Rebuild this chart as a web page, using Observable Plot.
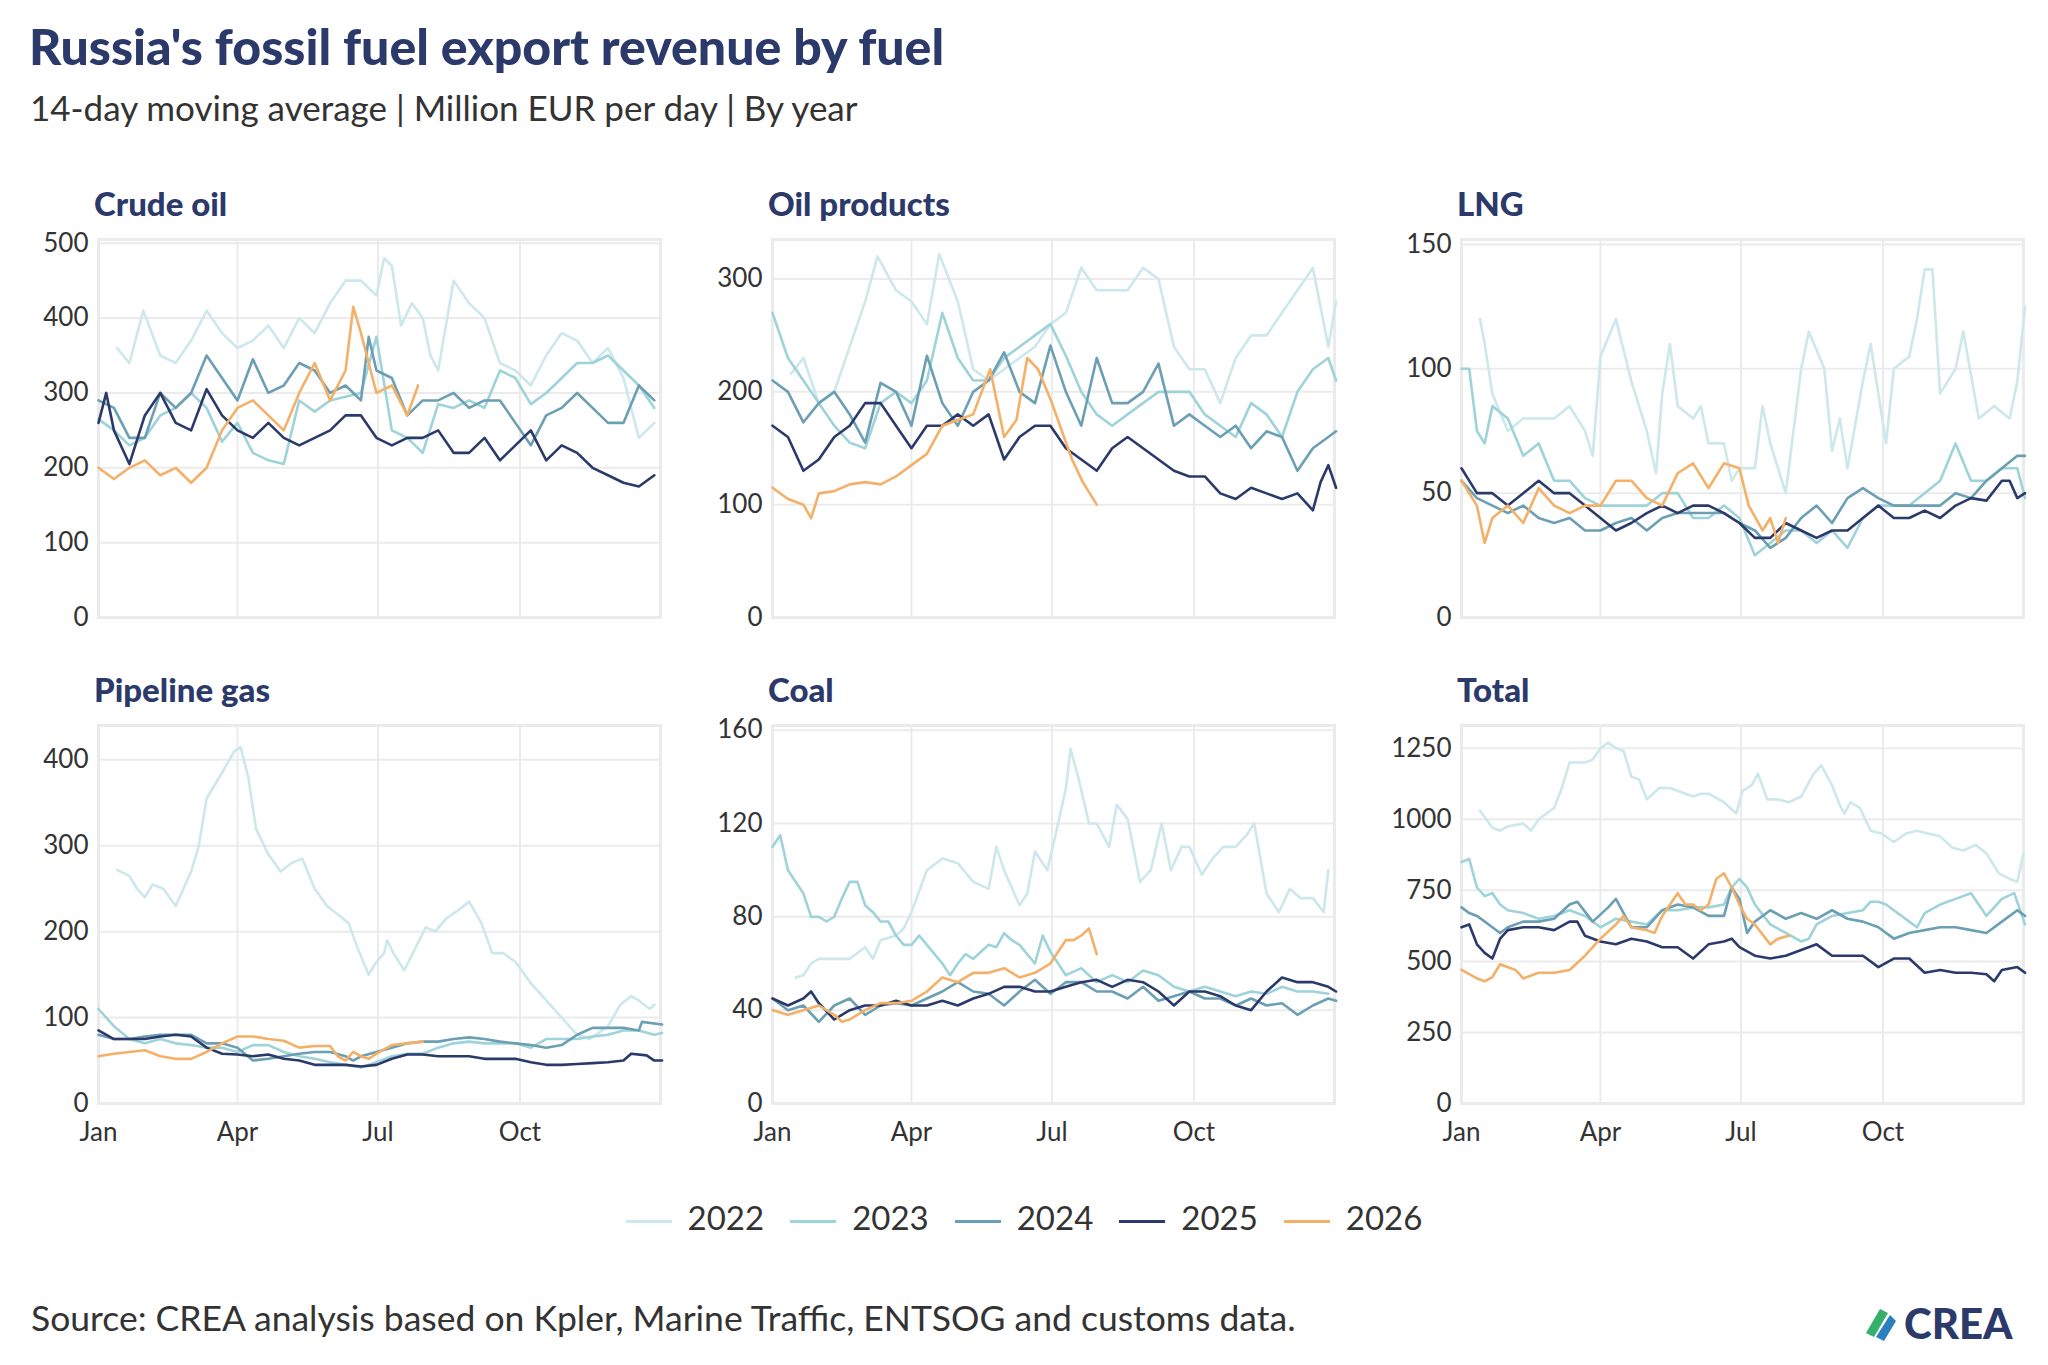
<!DOCTYPE html>
<html><head><meta charset="utf-8">
<script src="https://cdn.jsdelivr.net/npm/d3@7"></script>
<script src="https://cdn.jsdelivr.net/npm/@observablehq/plot@0.6"></script>
<style>
body{margin:0;width:2048px;height:1365px;background:#fff;font-family:Lato,"Noto Sans",sans-serif;position:relative;overflow:hidden}
.abs{position:absolute}
#title{left:29px;top:16px;font-size:50px;font-weight:900;color:#2b3a6b}
#sub{left:30px;top:86px;font-size:35px;color:#333}
.ptitle{font-size:33px;font-weight:900;color:#2b3a6b}
#legend{top:1197px;left:0;width:2048px;display:flex;justify-content:center;gap:26px;font-size:33px;color:#333}
#legend span.sw{display:inline-block;width:46px;height:3px;margin-right:16px;vertical-align:middle}
#cap{left:31px;top:1296px;font-size:35.5px;color:#333}
#logo{left:1862px;top:1298px;font-size:42px;font-weight:900;color:#2b3a6b;display:flex;align-items:center;gap:6px}
</style></head><body>
<div id="title" class="abs">Russia's fossil fuel export revenue by fuel</div>
<div id="sub" class="abs">14-day moving average | Million EUR per day | By year</div>
<div id="legend" class="abs"></div>
<div id="cap" class="abs">Source: CREA analysis based on Kpler, Marine Traffic, ENTSOG and customs data.</div>
<div id="logo" class="abs"><svg width="36" height="40" viewBox="0 0 36 40"><path d="M4 30 L18 6 L26 10 L12 34Z" fill="#35b06c"/><path d="M14 34 L28 12 L34 18 L22 38Z" fill="#2a7fbf"/></svg>CREA</div>
<script>
const years = ["2022","2023","2024","2025","2026"];
const colors = ["#cde8ec","#9ed3da","#6b9fb3","#2b3a6b","#f5b068"];
const fuels = ["Crude oil","Oil products","LNG","Pipeline gas","Coal","Total"];
const yMax = [505,335,152,440,162,1330];
const yTicks = [[0,100,200,300,400,500],[0,100,200,300],[0,50,100,150],[0,100,200,300,400],[0,40,80,120,160],[0,250,500,750,1000,1250]];
const monthTicks = ["Jan","Apr","Jul","Oct"];

const crude2022=[[12,360],[20,340],[29,410],[40,350],[50,340],[60,370],[70,410],[80,380],[90,360],[100,370],[110,390],[120,360],[130,400],[140,380],[150,420],[160,450],[170,450],[180,430],[185,480],[190,470],[196,390],[203,420],[210,400],[215,350],[220,330],[230,450],[240,420],[250,400],[260,340],[270,330],[280,310],[290,350],[300,380],[310,370],[320,340],[330,360],[340,320],[350,240],[360,260]];
const crude2023=[[0,265],[10,250],[20,230],[30,240],[40,270],[50,280],[60,300],[70,280],[80,235],[90,260],[100,220],[110,210],[120,205],[130,290],[140,275],[150,290],[160,295],[170,300],[180,375],[190,250],[200,240],[210,220],[220,285],[230,280],[240,290],[250,280],[260,330],[270,320],[280,285],[290,300],[300,320],[310,340],[320,340],[330,350],[340,330],[350,310],[360,280]];
const crude2024=[[0,290],[10,280],[20,240],[30,240],[40,300],[50,280],[60,300],[70,350],[80,320],[90,290],[100,345],[110,300],[120,310],[130,340],[140,330],[150,300],[160,310],[170,290],[175,375],[180,330],[190,320],[200,270],[210,290],[220,290],[230,300],[240,280],[250,290],[260,290],[270,260],[280,230],[290,270],[300,280],[310,300],[320,280],[330,260],[340,260],[350,310],[360,290]];
const crude2025=[[0,260],[5,300],[10,250],[20,205],[30,270],[40,300],[50,260],[60,250],[70,305],[80,270],[90,250],[100,240],[110,260],[120,240],[130,230],[140,240],[150,250],[160,270],[170,270],[180,240],[190,230],[200,240],[210,240],[220,250],[230,220],[240,220],[250,240],[260,210],[270,230],[280,250],[290,210],[300,230],[310,220],[320,200],[330,190],[340,180],[350,175],[360,190]];
const crude2026=[[0,200],[10,185],[20,200],[30,210],[40,190],[50,200],[60,180],[70,200],[80,250],[90,280],[100,290],[110,270],[120,250],[130,300],[140,340],[150,290],[160,330],[165,415],[170,380],[180,300],[190,310],[200,270],[207,310]];

const prod2022=[[12,216],[20,230],[30,190],[40,200],[50,240],[60,280],[68,320],[80,290],[90,280],[100,260],[108,322],[120,280],[130,220],[140,210],[150,220],[160,230],[170,240],[180,260],[190,270],[200,310],[210,290],[220,290],[230,290],[240,310],[250,300],[260,240],[270,220],[280,220],[290,190],[300,230],[310,250],[320,250],[330,270],[340,290],[350,310],[360,240],[365,280]];
const prod2023=[[0,270],[10,230],[20,210],[30,190],[40,170],[50,155],[60,150],[70,190],[80,200],[90,190],[100,210],[110,270],[120,230],[130,210],[140,210],[150,230],[160,240],[170,250],[180,260],[190,232],[200,200],[210,180],[220,170],[230,180],[240,190],[250,200],[260,200],[270,200],[280,180],[290,170],[300,160],[310,190],[320,180],[330,160],[340,200],[350,220],[360,230],[365,210]];
const prod2024=[[0,210],[10,200],[20,173],[30,190],[40,200],[50,180],[60,155],[70,208],[80,200],[90,170],[100,232],[110,190],[120,170],[130,200],[140,210],[150,235],[160,200],[170,190],[180,241],[190,200],[200,170],[210,230],[220,190],[230,190],[240,200],[250,225],[260,170],[270,180],[280,170],[290,160],[300,170],[310,150],[320,165],[330,160],[340,130],[350,150],[360,160],[365,165]];
const prod2025=[[0,170],[10,160],[20,130],[30,140],[40,160],[50,170],[60,190],[70,190],[80,170],[90,150],[100,170],[110,170],[120,180],[130,170],[140,180],[150,140],[160,160],[170,170],[180,170],[190,150],[200,140],[210,130],[220,150],[230,160],[240,150],[250,140],[260,130],[270,125],[280,125],[290,110],[300,105],[310,115],[320,110],[330,105],[340,110],[350,95],[355,120],[360,135],[365,115]];
const prod2026=[[0,115],[10,105],[20,100],[25,88],[30,110],[40,112],[50,118],[60,120],[70,118],[80,125],[90,135],[100,145],[110,170],[120,175],[130,180],[141,220],[150,160],[158,175],[165,230],[172,220],[181,190],[194,140],[201,120],[210,100]];

const lng2022=[[12,120],[15,110],[20,90],[30,75],[40,80],[50,80],[60,80],[70,85],[80,75],[85,65],[90,105],[100,120],[110,95],[120,75],[126,58],[130,90],[135,110],[140,85],[150,80],[155,85],[160,70],[170,70],[175,55],[180,60],[190,60],[195,85],[200,70],[210,50],[220,100],[225,115],[235,100],[240,67],[245,80],[250,60],[260,95],[265,110],[275,70],[280,100],[290,105],[295,120],[300,140],[305,140],[310,90],[320,100],[325,115],[335,80],[345,85],[355,80],[360,95],[365,125]];
const lng2023=[[0,100],[5,100],[10,75],[15,70],[20,85],[30,80],[40,65],[50,70],[60,55],[70,55],[80,48],[90,45],[100,45],[110,45],[120,45],[130,50],[140,50],[150,40],[160,40],[170,45],[180,40],[190,25],[200,30],[210,35],[220,35],[230,30],[240,35],[250,28],[260,40],[270,45],[280,45],[290,45],[300,50],[310,55],[320,70],[330,55],[340,55],[350,60],[360,60],[365,48]];
const lng2024=[[0,55],[10,48],[20,45],[30,42],[40,45],[50,40],[60,38],[70,40],[80,35],[90,35],[100,38],[110,40],[120,35],[130,40],[140,42],[150,42],[160,42],[170,42],[180,38],[190,35],[200,28],[210,32],[220,40],[230,45],[240,38],[250,48],[260,52],[270,48],[280,45],[290,45],[300,45],[310,45],[320,50],[330,48],[340,55],[350,60],[360,65],[365,65]];
const lng2025=[[0,60],[10,50],[20,50],[30,45],[40,50],[50,55],[60,50],[70,50],[80,45],[90,40],[100,35],[110,38],[120,42],[130,45],[140,42],[150,45],[160,45],[170,42],[180,38],[190,32],[200,32],[210,38],[220,35],[230,32],[240,35],[250,35],[260,40],[270,45],[280,40],[290,40],[300,43],[310,40],[320,45],[330,48],[340,47],[350,55],[355,55],[360,48],[365,50]];
const lng2026=[[0,55],[10,45],[15,30],[20,40],[30,45],[40,38],[50,52],[60,45],[70,42],[80,45],[90,45],[100,55],[110,55],[120,48],[130,45],[140,58],[150,62],[160,52],[170,62],[180,60],[186,45],[195,35],[200,40],[205,30],[210,40]];

const pipe2022=[[12,272],[20,265],[25,250],[30,240],[35,255],[42,250],[50,230],[60,270],[65,300],[70,355],[80,385],[88,410],[92,415],[97,380],[102,320],[110,290],[118,270],[125,280],[132,285],[140,250],[148,230],[155,220],[162,210],[168,180],[175,150],[180,165],[185,175],[187,190],[191,175],[198,155],[205,180],[212,205],[218,200],[225,215],[233,225],[240,235],[248,210],[255,175],[262,175],[270,165],[280,140],[290,120],[300,100],[310,80],[318,75],[330,90],[338,115],[345,125],[350,120],[357,110],[360,115]];
const pipe2023=[[0,110],[5,100],[10,90],[20,75],[30,70],[40,75],[50,70],[60,68],[70,65],[80,65],[90,60],[100,68],[110,68],[120,60],[130,55],[140,52],[150,48],[160,45],[170,42],[180,48],[190,55],[200,58],[210,58],[220,65],[230,70],[240,72],[250,70],[260,70],[270,70],[280,65],[290,75],[300,75],[310,75],[320,78],[330,80],[340,85],[350,85],[360,80],[365,82]];
const pipe2024=[[0,80],[10,75],[20,75],[30,78],[40,80],[50,80],[60,80],[70,70],[80,70],[90,65],[100,50],[110,52],[120,55],[130,58],[140,60],[150,60],[160,55],[165,50],[170,55],[180,60],[190,65],[200,70],[210,72],[220,72],[230,75],[240,77],[250,75],[260,72],[270,70],[280,68],[290,65],[300,68],[310,80],[320,88],[330,88],[340,88],[350,85],[352,95],[365,92]];
const pipe2025=[[0,85],[10,75],[20,75],[30,75],[40,78],[50,80],[60,78],[70,65],[80,58],[90,57],[100,55],[110,57],[120,52],[130,50],[140,45],[150,45],[160,45],[170,43],[180,45],[190,52],[200,57],[210,57],[220,55],[230,55],[240,55],[250,52],[260,52],[270,52],[280,48],[290,45],[300,45],[310,46],[320,47],[330,48],[340,50],[345,58],[355,56],[360,50],[365,50]];
const pipe2026=[[0,55],[10,58],[20,60],[30,62],[40,55],[50,52],[60,52],[70,60],[80,70],[90,78],[100,78],[110,75],[120,73],[130,65],[140,67],[150,67],[155,55],[160,50],[165,60],[170,55],[175,52],[180,58],[190,68],[200,70],[210,72]];

const coal2022=[[15,54],[20,55],[25,60],[30,62],[40,62],[50,62],[60,67],[65,62],[70,70],[80,72],[85,75],[90,82],[100,100],[110,105],[120,103],[130,95],[140,92],[145,110],[150,100],[160,85],[165,90],[170,108],[178,100],[185,120],[190,135],[193,152],[198,140],[205,120],[210,120],[218,110],[223,128],[230,122],[238,95],[245,100],[252,120],[258,100],[265,110],[270,110],[278,98],[285,105],[292,110],[300,110],[307,115],[312,120],[320,90],[328,82],[335,92],[342,88],[350,88],[357,82],[360,100]];
const coal2023=[[0,110],[5,115],[10,100],[15,95],[20,90],[25,80],[30,80],[35,78],[40,80],[45,88],[50,95],[55,95],[60,85],[65,82],[70,78],[75,78],[80,72],[85,68],[90,68],[95,72],[100,68],[110,60],[115,55],[120,60],[125,64],[130,62],[140,68],[145,67],[150,73],[155,70],[160,68],[170,60],[175,72],[180,65],[185,60],[190,55],[200,58],[210,52],[220,55],[230,52],[240,57],[250,55],[260,50],[270,48],[280,50],[290,48],[300,46],[310,48],[320,47],[330,50],[340,48],[350,48],[360,47]];
const coal2024=[[0,45],[10,40],[20,42],[30,35],[40,42],[50,45],[60,38],[70,42],[80,43],[90,42],[100,45],[110,48],[120,52],[130,48],[140,47],[150,42],[160,48],[170,53],[180,47],[190,52],[200,52],[210,48],[220,48],[230,45],[240,50],[250,44],[260,46],[270,48],[280,45],[290,45],[300,42],[310,45],[320,42],[330,43],[340,38],[350,42],[360,45],[365,44]];
const coal2025=[[0,45],[10,42],[20,45],[25,48],[30,43],[40,36],[50,40],[60,42],[70,42],[80,44],[90,42],[100,42],[110,44],[120,42],[130,45],[140,47],[150,50],[160,50],[170,48],[180,48],[190,50],[200,52],[210,53],[220,50],[230,53],[240,52],[250,48],[260,42],[270,48],[280,48],[290,46],[300,42],[310,40],[320,48],[330,54],[340,52],[350,52],[360,50],[365,48]];
const coal2026=[[0,40],[10,38],[20,40],[30,42],[40,38],[45,35],[50,36],[60,40],[70,43],[80,43],[90,44],[100,48],[110,54],[120,52],[130,56],[140,56],[150,58],[160,54],[170,56],[180,60],[185,65],[190,70],[195,70],[200,72],[205,75],[210,64]];

const total2022=[[12,1030],[20,970],[25,960],[30,975],[40,985],[45,960],[50,1000],[60,1040],[65,1110],[70,1200],[80,1200],[85,1210],[90,1250],[95,1270],[100,1250],[105,1240],[110,1150],[115,1140],[120,1070],[128,1110],[135,1110],[145,1090],[150,1080],[155,1090],[160,1090],[170,1060],[178,1020],[182,1100],[188,1120],[192,1160],[198,1070],[205,1070],[212,1060],[220,1080],[228,1160],[233,1190],[240,1120],[245,1050],[248,1020],[252,1060],[258,1040],[265,960],[272,950],[280,920],[288,950],[295,960],[302,950],[310,940],[318,900],[325,890],[333,910],[340,880],[348,810],[355,790],[360,780],[364,880]];
const total2023=[[0,850],[5,860],[10,760],[15,730],[20,740],[25,700],[30,680],[40,670],[50,650],[60,660],[70,680],[80,660],[85,640],[90,620],[100,650],[110,640],[120,630],[130,680],[140,680],[150,690],[160,690],[170,700],[175,760],[180,790],[185,760],[190,700],[200,630],[210,600],[220,570],[225,580],[230,630],[240,660],[250,670],[260,680],[265,710],[270,710],[275,700],[280,680],[290,640],[295,620],[300,670],[310,700],[320,720],[330,740],[335,700],[340,660],[350,720],[358,740],[365,630]];
const total2024=[[0,690],[5,670],[10,660],[20,620],[25,600],[30,620],[40,640],[50,640],[60,650],[70,700],[75,710],[85,640],[95,690],[100,720],[110,620],[120,620],[130,680],[140,700],[150,690],[160,660],[170,660],[175,760],[180,720],[185,600],[190,640],[200,680],[210,650],[220,670],[230,650],[240,680],[250,650],[260,640],[270,620],[280,580],[290,600],[300,610],[310,620],[320,620],[330,610],[340,600],[350,640],[360,680],[365,660]];
const total2025=[[0,620],[5,630],[10,560],[15,530],[20,510],[25,580],[30,610],[40,620],[50,620],[60,610],[70,640],[75,640],[80,590],[90,570],[100,560],[110,580],[120,570],[130,550],[140,550],[150,510],[160,560],[170,570],[175,580],[180,550],[190,520],[200,510],[210,520],[220,540],[230,560],[240,520],[250,520],[260,520],[270,480],[280,510],[290,510],[300,460],[310,470],[320,460],[330,460],[340,455],[345,430],[350,470],[360,480],[365,460]];
const total2026=[[0,470],[10,440],[15,430],[20,445],[25,490],[35,470],[40,440],[50,460],[60,460],[70,470],[80,520],[90,580],[100,630],[105,660],[110,620],[120,610],[125,600],[130,660],[140,740],[145,700],[150,700],[155,680],[160,700],[165,790],[170,810],[175,760],[180,700],[185,650],[190,630],[200,560],[205,580],[212,590]];

const series = [
  [crude2022,crude2023,crude2024,crude2025,crude2026],
  [prod2022,prod2023,prod2024,prod2025,prod2026],
  [lng2022,lng2023,lng2024,lng2025,lng2026],
  [pipe2022,pipe2023,pipe2024,pipe2025,pipe2026],
  [coal2022,coal2023,coal2024,coal2025,coal2026],
  [total2022,total2023,total2024,total2025,total2026]
];

const toDate = d => new Date(2001,0,1+d);
const colLeft = [98,772,1461];
const rowTop = [239,725];
const plotW = 562, plotH = 378;
const mL = 90, mT = 4, mR = 8, mB = 60;
const xTickDates = [0,90,181,273].map(toDate);
const fmtMonth = d => monthTicks[xTickDates.findIndex(t=>+t===+d)];

fuels.forEach((fuel,i)=>{
  const col = i%3, row = Math.floor(i/3);
  const rows = [];
  series[i].forEach((arr,k)=>arr.forEach(([d,v])=>rows.push({date:toDate(d),value:v,year:years[k]})));
  const bottom = row===1;
  const p = Plot.plot({
    width: plotW+mL+mR, height: plotH+mT+mB,
    marginLeft: mL, marginTop: mT, marginRight: mR, marginBottom: mB,
    style:{fontFamily:'Lato,"Noto Sans",sans-serif',fontSize:"26px",color:"#333",background:"transparent",overflow:"visible"},
    x:{type:"time",domain:[toDate(0),toDate(364)],axis:null},
    y:{domain:[0,yMax[i]],axis:null},
    color:{domain:years,range:colors},
    marks:[
      Plot.frame({stroke:"#ebebeb",strokeWidth:3}),
      Plot.gridX(xTickDates,{stroke:"#ebebeb",strokeOpacity:1,strokeWidth:2}),
      Plot.gridY(yTicks[i],{stroke:"#ebebeb",strokeOpacity:1,strokeWidth:2}),
      Plot.line(rows,{x:"date",y:"value",z:"year",stroke:"year",strokeWidth:2.6,curve:"linear"}),
      Plot.axisY({ticks:yTicks[i],tickFormat:d=>String(d),tickSize:0,tickPadding:10,fontSize:26,fill:"#333",label:null}),
      ...(bottom?[Plot.axisX({ticks:xTickDates,tickFormat:fmtMonth,tickSize:0,tickPadding:19,fontSize:26,fill:"#333",label:null})]:[])
    ]
  });
  p.style.position="absolute";
  p.style.left=(colLeft[col]-mL)+"px";
  p.style.top=(rowTop[row]-mT)+"px";
  document.body.appendChild(p);
  const t=document.createElement("div");
  t.className="abs ptitle"; t.textContent=fuel;
  t.style.left=(colLeft[col]-4)+"px"; t.style.top=(rowTop[row]-56)+"px";
  document.body.appendChild(t);
});

const lg=document.getElementById("legend");
years.forEach((y,k)=>{
  const s=document.createElement("div");
  s.innerHTML=`<span class="sw" style="background:${colors[k]}"></span>${y}`;
  lg.appendChild(s);
});
</script>
</body></html>
